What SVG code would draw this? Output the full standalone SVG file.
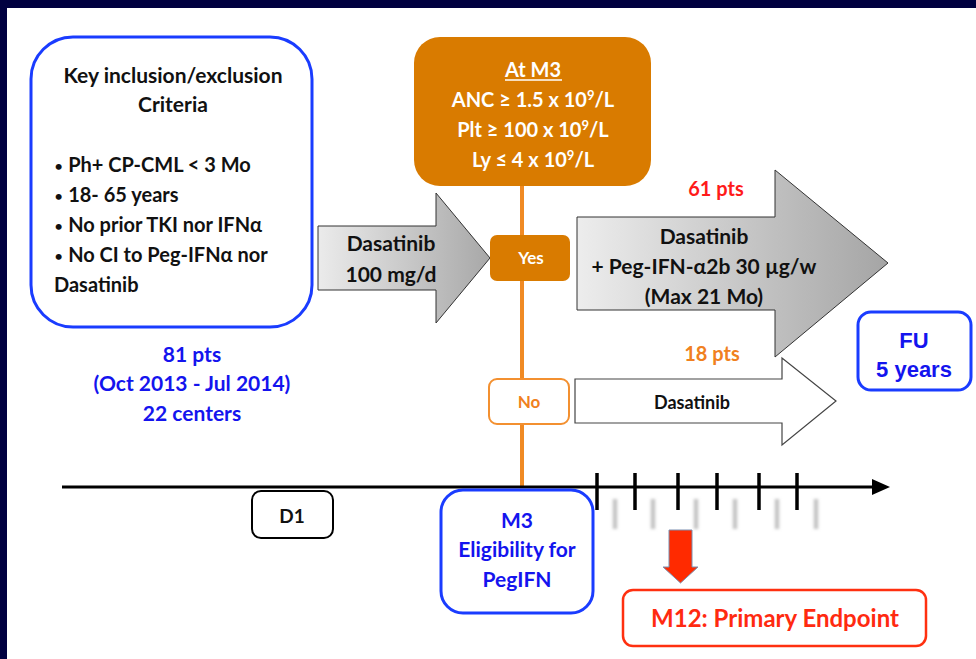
<svg xmlns="http://www.w3.org/2000/svg" width="976" height="659" viewBox="0 0 976 659">
<defs>
<style>
.t{font-family:Lato,"Open Sans","Liberation Sans",sans-serif;font-weight:bold;}
.c{text-anchor:middle;}
.blue{fill:#1414ee;}
.blk{fill:#111;}
.wht{fill:#fff;}
.bbox{fill:#fff;stroke:#1a3cff;stroke-width:3;}
.bul{font-weight:normal;font-size:16px;}
</style>
<linearGradient id="g1" x1="0" y1="0" x2="1" y2="0">
<stop offset="0" stop-color="#ebebeb"/>
<stop offset="1" stop-color="#a8a8a8"/>
</linearGradient>
<linearGradient id="g2" x1="0" y1="0" x2="1" y2="0">
<stop offset="0" stop-color="#ededed"/>
<stop offset="1" stop-color="#a5a5a5"/>
</linearGradient>
<filter id="blur" x="-2" y="-1" width="5" height="3"><feGaussianBlur stdDeviation="1.6"/></filter>
</defs>
<rect width="976" height="659" fill="#fff"/>
<rect x="0" y="0" width="976" height="8" fill="#000040"/>
<rect x="0" y="0" width="7" height="659" fill="#000040"/>

<g id="criteria">
<rect class="bbox" x="31" y="37" width="281" height="290" rx="42"/>
<text class="t c blk" x="173" y="83" font-size="21">Key inclusion/exclusion</text>
<text class="t c blk" x="173" y="112" font-size="21">Criteria</text>
<text class="t blk" x="54" y="172" font-size="20"><tspan class="bul">•</tspan> Ph+ CP-CML &lt; 3 Mo</text>
<text class="t blk" x="54" y="202" font-size="20"><tspan class="bul">•</tspan> 18- 65 years</text>
<text class="t blk" x="54" y="232" font-size="20"><tspan class="bul">•</tspan> No prior TKI nor IFNα</text>
<text class="t blk" x="54" y="262" font-size="20"><tspan class="bul">•</tspan> No CI to Peg-IFNα nor</text>
<text class="t blk" x="54" y="292" font-size="20">Dasatinib</text>
</g>

<g id="enrollment">
<text class="t c blue" x="192" y="362" font-size="21">81 pts</text>
<text class="t c blue" x="192" y="391" font-size="21">(Oct 2013 - Jul 2014)</text>
<text class="t c blue" x="192" y="421" font-size="21">22 centers</text>
</g>

<g id="connectors">
<line x1="522" y1="180" x2="522" y2="487" stroke="#f08a24" stroke-width="4"/>
<line x1="62" y1="487" x2="878" y2="487" stroke="#000" stroke-width="3"/>
<polygon points="872,479 890,487 872,495" fill="#000"/>
<g stroke="#000" stroke-width="3.5">
<line x1="597" y1="473" x2="597" y2="510"/>
<line x1="635" y1="473" x2="635" y2="510"/>
<line x1="678" y1="473" x2="678" y2="510"/>
<line x1="717" y1="473" x2="717" y2="510"/>
<line x1="759" y1="473" x2="759" y2="510"/>
<line x1="797" y1="473" x2="797" y2="510"/>
</g>
<g stroke="#c4c4c4" stroke-width="4.5" filter="url(#blur)">
<line x1="615" y1="499" x2="615" y2="529"/>
<line x1="653" y1="499" x2="653" y2="529"/>
<line x1="696" y1="499" x2="696" y2="529"/>
<line x1="735" y1="499" x2="735" y2="529"/>
<line x1="777" y1="499" x2="777" y2="529"/>
<line x1="816" y1="499" x2="816" y2="529"/>
</g>
</g>

<g id="atm3">
<rect x="414" y="37" width="237" height="149" rx="26" fill="#d97b00"/>
<text class="t c wht" x="533" y="77" font-size="20">At M3</text>
<line x1="505" y1="80" x2="562" y2="80" stroke="#fff" stroke-width="1.5"/>
<text class="t c wht" x="533" y="107" font-size="20">ANC ≥ 1.5 x 10<tspan font-size="13" dy="-7">9</tspan><tspan dy="7">/L</tspan></text>
<text class="t c wht" x="533" y="137" font-size="20">Plt ≥  100 x 10<tspan font-size="13" dy="-7">9</tspan><tspan dy="7">/L</tspan></text>
<text class="t c wht" x="533" y="167" font-size="20">Ly ≤ 4 x 10<tspan font-size="13" dy="-7">9</tspan><tspan dy="7">/L</tspan></text>
</g>

<g id="dasatinib100">
<polygon points="318,226 436,226 436,193 490,258 436,323 436,290 318,290" fill="url(#g1)" stroke="#333" stroke-width="1"/>
<text class="t c blk" x="391" y="251" font-size="21">Dasatinib</text>
<text class="t c blk" x="391" y="282" font-size="21">100 mg/d</text>
</g>

<g id="yes">
<rect x="490" y="235" width="80" height="46" rx="7" fill="#d97b00"/>
<text class="t c wht" x="531" y="264" font-size="17">Yes</text>
</g>

<g id="no">
<rect x="489" y="379" width="80" height="45" rx="8" fill="#fff" stroke="#f39030" stroke-width="2"/>
<text class="t c" x="529" y="408" font-size="17" fill="#f08020">No</text>
</g>

<g id="combo">
<text class="t c" x="716" y="196" font-size="20" fill="#ff1a1a">61 pts</text>
<polygon points="577,217 775,217 775,170 888,263 775,357 775,310 577,310" fill="url(#g2)" stroke="#333" stroke-width="1"/>
<text class="t c blk" x="704" y="244" font-size="21">Dasatinib</text>
<text class="t c blk" x="704" y="274" font-size="21">+  Peg-IFN-α2b 30 µg/w</text>
<text class="t c blk" x="704" y="304" font-size="21">(Max 21 Mo)</text>
</g>

<g id="dasatinibOnly">
<text class="t c" x="712" y="361" font-size="20" fill="#f08020">18 pts</text>
<polygon points="575,379 782,379 782,358 836,401 782,445 782,423 575,423" fill="#fff" stroke="#444" stroke-width="1.2"/>
<text class="t c blk" x="692" y="409" font-size="18">Dasatinib</text>
</g>

<g id="fu">
<rect class="bbox" x="858" y="312" width="113" height="78" rx="13"/>
<text class="c" x="914" y="348" font-size="22" font-family="'Liberation Sans',Arial,sans-serif" font-weight="bold" fill="#1414ee">FU</text>
<text class="c" x="914" y="377" font-size="22" font-family="'Liberation Sans',Arial,sans-serif" font-weight="bold" fill="#1414ee">5 years</text>
</g>

<g id="d1">
<rect x="252" y="491" width="81" height="47" rx="9" fill="#fff" stroke="#000" stroke-width="2"/>
<text class="t c blk" x="292" y="523" font-size="19">D1</text>
</g>

<g id="m3">
<rect class="bbox" x="441" y="490" width="152" height="123" rx="22"/>
<text class="t c blue" x="517" y="528" font-size="21">M3</text>
<text class="t c blue" x="517" y="557" font-size="21">Eligibility for</text>
<text class="t c blue" x="517" y="587" font-size="21">PegIFN</text>
</g>

<g id="m12">
<polygon points="669,530 692,530 692,567 698,567 680.5,583 663,567 669,567" fill="#ff2a00" stroke="#7a8fb0" stroke-width="1"/>
<rect x="623" y="590" width="303" height="56" rx="10" fill="#fff" stroke="#ff3010" stroke-width="2.5"/>
<text class="t c" x="775" y="627" font-size="24" fill="#ff2a10">M12: Primary Endpoint</text>
</g>
</svg>
